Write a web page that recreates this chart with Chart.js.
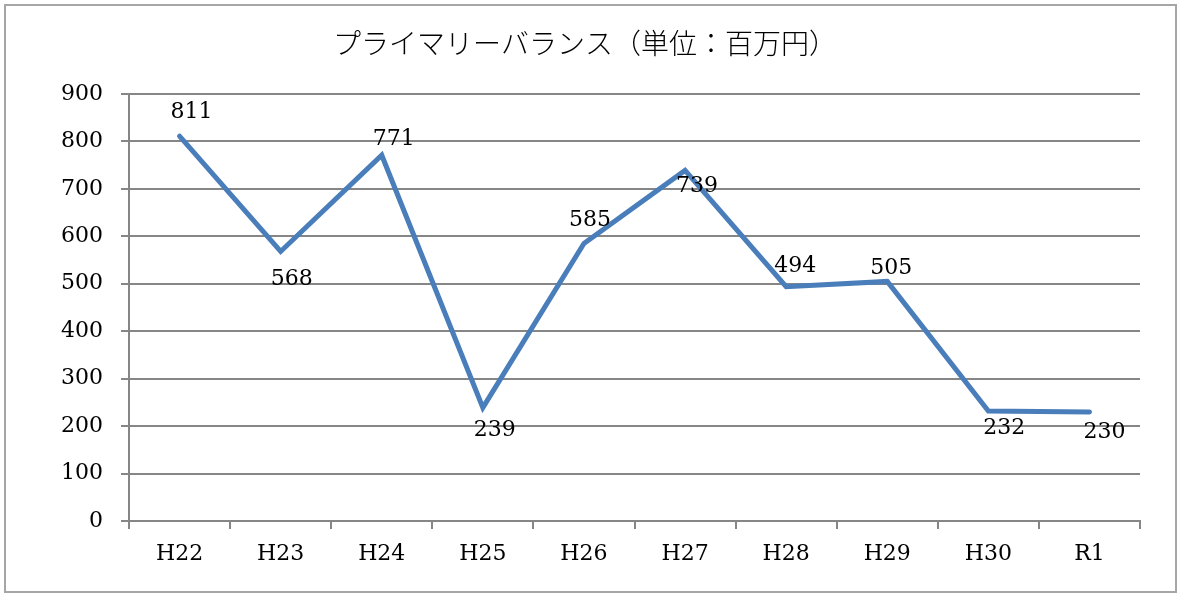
<!DOCTYPE html>
<html>
<head>
<meta charset="utf-8">
<script src="https://cdn.jsdelivr.net/npm/chart.js@4.4.1/dist/chart.umd.min.js"></script>
<style>
html,body{margin:0;padding:0;background:#fff;}
#wrap{width:1178px;height:594px;position:relative;}
</style>
</head>
<body>
<div id="wrap"><canvas id="c" width="1178" height="594"></canvas></div>
<script>
const categories = ['H22','H23','H24','H25','H26','H27','H28','H29','H30','R1'];
const balance = [811, 568, 771, 239, 585, 739, 494, 505, 232, 230];
const yTicks = [0,100,200,300,400,500,600,700,800,900];
const chartTitle = 'プライマリーバランス（単位：百万円）';
// label placement offsets (style, px relative to point)
const labelDx = [12, 11, 12, 12, 6, 12, 9, 4, 16, 15];
const labelDy = [-24, 28, -16, 23, -23, 16, -20, -13, 17, 20];

const SERIF = '"DejaVu Serif", serif';

const frame = {
  id: 'frame',
  beforeDraw(chart) {
    const ctx = chart.ctx;
    ctx.save();
    ctx.fillStyle = '#fff';
    ctx.fillRect(0, 0, chart.width, chart.height);
    ctx.strokeStyle = '#a6a6a6';
    ctx.lineWidth = 2;
    ctx.strokeRect(5, 5, 1171, 587);
    ctx.restore();
  }
};

const valueLabels = {
  id: 'valueLabels',
  afterDatasetsDraw(chart) {
    const ctx = chart.ctx;
    const meta = chart.getDatasetMeta(0);
    ctx.save();
    ctx.font = '22px ' + SERIF;
    ctx.fillStyle = '#000';
    ctx.textAlign = 'center';
    ctx.textBaseline = 'middle';
    meta.data.forEach((pt, i) => {
      ctx.fillText(String(balance[i]), pt.x + labelDx[i], pt.y + labelDy[i]);
    });
    ctx.restore();
  }
};

new Chart(document.getElementById('c'), {
  type: 'line',
  data: {
    labels: categories,
    datasets: [{
      data: balance,
      borderColor: '#4a7ebb',
      borderWidth: 5,
      borderCapStyle: 'round',
      borderJoinStyle: 'miter',
      pointRadius: 0,
      pointHoverRadius: 0,
      tension: 0,
      fill: false
    }]
  },
  options: {
    responsive: false,
    animation: false,
    events: [],
    layout: { padding: { left: 30, right: 38, top: 0, bottom: 0 } },
    plugins: {
      legend: { display: false },
      tooltip: { enabled: false },
      title: {
        display: true,
        text: chartTitle,
        color: '#000',
        font: { family: '"Noto Sans CJK JP", sans-serif', size: 28, weight: '300', lineHeight: 1.2 },
        padding: { top: 27, bottom: 33.4 }
      }
    },
    scales: {
      x: {
        offset: true,
        grid: {
          offset: true,
          drawOnChartArea: false,
          drawTicks: true,
          tickLength: 8,
          color: '#868686',
          lineWidth: 2
        },
        border: { color: '#868686', width: 2 },
        ticks: {
          color: '#000',
          font: { family: SERIF, size: 22 },
          padding: 12,
          maxRotation: 0
        },
        afterFit(scale) { scale.height = 73; }
      },
      y: {
        min: 0,
        max: 900,
        afterBuildTicks(scale) { scale.ticks = yTicks.map(v => ({ value: v })); },
        grid: {
          color: '#868686',
          lineWidth: 2,
          tickLength: 8,
          drawTicks: true
        },
        border: { color: '#868686', width: 2 },
        ticks: {
          color: '#000',
          font: { family: SERIF, size: 22 },
          padding: 18
        },
        afterFit(scale) { scale.width = 99; }
      }
    }
  },
  plugins: [frame, valueLabels]
});
</script>
</body>
</html>
